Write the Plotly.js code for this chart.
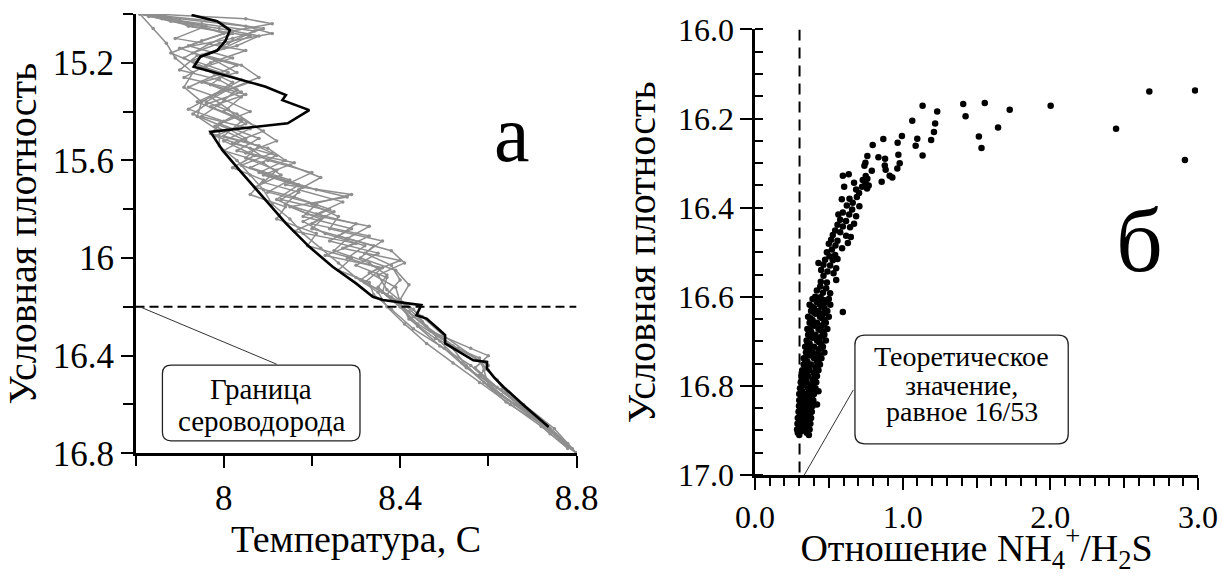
<!DOCTYPE html>
<html><head><meta charset="utf-8">
<script src="https://cdn.plot.ly/plotly-3.0.1.min.js"></script>
<style>html,body{margin:0;padding:0;background:#fff}#chart{width:1222px;height:575px}</style>
</head><body><div id="chart"></div>
<script>
// ---------- Panel "а": temperature profiles vs conditional density ----------
const grayT1 = [7.82,7.98,8.09,8.02,7.90,7.98,8.03,7.95,8.05,7.97,8.04,8.09,8.02,8.12,8.06,8.15,8.10,8.21,8.18,8.29,8.24,8.35,8.30,8.37,8.36,8.40,8.44,8.49,8.56,8.61,8.67,8.73,8.78,8.80];
const grayD1 = [15.00,15.03,15.06,15.10,15.14,15.19,15.24,15.28,15.33,15.38,15.43,15.48,15.53,15.58,15.63,15.68,15.73,15.78,15.83,15.88,15.93,15.98,16.03,16.08,16.14,16.20,16.28,16.36,16.44,16.52,16.60,16.68,16.76,16.80];
const grayT2 = [7.81,7.90,8.05,8.11,7.99,7.93,8.03,7.98,7.92,8.00,8.06,7.99,8.08,8.03,8.16,8.09,8.18,8.13,8.25,8.20,8.33,8.27,8.40,8.33,8.39,8.40,8.42,8.48,8.58,8.59,8.60,8.66,8.74,8.80];
const grayD2 = [15.00,15.02,15.05,15.08,15.12,15.16,15.21,15.25,15.30,15.35,15.40,15.45,15.51,15.56,15.61,15.66,15.71,15.76,15.81,15.86,15.91,15.96,16.01,16.06,16.12,16.18,16.25,16.33,16.41,16.46,16.52,16.60,16.70,16.80];
const grayT3 = [7.83,7.93,8.00,7.92,8.02,7.95,8.04,8.00,7.94,8.02,7.98,8.05,8.11,8.04,8.12,8.21,8.28,8.15,8.22,8.16,8.30,8.23,8.36,8.32,8.38,8.42,8.47,8.56,8.60,8.57,8.62,8.68,8.75,8.80];
const grayD3 = [15.00,15.04,15.08,15.13,15.18,15.22,15.27,15.31,15.36,15.42,15.46,15.52,15.57,15.62,15.67,15.72,15.75,15.79,15.84,15.89,15.94,15.99,16.04,16.10,16.16,16.22,16.30,16.37,16.40,16.45,16.53,16.62,16.72,16.80];
const grayT4 = [7.85,7.96,7.89,8.05,7.97,7.91,8.03,7.99,7.95,8.06,8.00,8.07,8.02,8.09,8.06,8.14,8.12,8.21,8.19,8.29,8.26,8.33,8.34,8.38,8.43,8.50,8.55,8.63,8.69,8.74,8.80];
const grayD4 = [15.01,15.05,15.10,15.15,15.20,15.26,15.31,15.37,15.42,15.47,15.52,15.58,15.63,15.68,15.74,15.79,15.84,15.90,15.95,16.00,16.05,16.10,16.15,16.21,16.29,16.37,16.45,16.54,16.63,16.72,16.80];
const grayT5 = [7.84,8.05,8.11,8.02,7.95,7.88,7.96,8.06,7.98,7.92,8.00,7.97,8.10,8.14,8.08,8.17,8.12,8.19,8.33,8.28,8.38,8.41,8.35,8.37,8.41,8.45,8.49,8.54,8.59,8.64,8.72,8.79];
const grayD5 = [15.00,15.02,15.04,15.07,15.11,15.16,15.22,15.28,15.33,15.39,15.44,15.49,15.55,15.60,15.65,15.70,15.76,15.82,15.87,15.92,15.97,16.02,16.07,16.13,16.19,16.26,16.34,16.43,16.51,16.59,16.68,16.78];
const grayT6 = [7.81,7.84,7.87,7.89,7.93,7.91,7.95,7.94,7.99,7.99,8.03,8.06,8.09,8.11,8.15,8.18,8.22,8.26,8.30,8.35,8.37,8.41,8.46,8.52,8.58,8.65,8.72,8.78];
const grayD6 = [15.00,15.06,15.12,15.18,15.24,15.30,15.36,15.42,15.48,15.54,15.60,15.66,15.72,15.78,15.84,15.90,15.96,16.02,16.08,16.14,16.20,16.27,16.35,16.43,16.51,16.60,16.69,16.78];
const grayT7 = [7.86,7.92,8.06,8.00,7.93,8.01,7.97,8.04,8.00,8.05,7.98,8.06,8.10,8.20,8.14,8.29,8.20,8.26,8.24,8.36,8.32,8.38,8.40,8.37,8.43,8.46,8.52,8.60,8.58,8.63,8.70,8.76,8.80];
const grayD7 = [15.00,15.05,15.09,15.14,15.19,15.24,15.29,15.34,15.40,15.45,15.50,15.55,15.60,15.65,15.70,15.74,15.78,15.83,15.88,15.93,15.98,16.03,16.09,16.15,16.21,16.28,16.36,16.44,16.48,16.56,16.65,16.74,16.80];
const grayT8 = [7.83,7.95,8.07,8.01,7.96,8.04,8.08,8.01,7.96,8.03,8.07,8.12,8.05,8.15,8.22,8.17,8.27,8.21,8.30,8.26,8.34,8.31,8.39,8.42,8.40,8.45,8.50,8.57,8.62,8.68,8.75,8.80];
const grayD8 = [15.01,15.04,15.07,15.12,15.17,15.21,15.26,15.31,15.36,15.41,15.46,15.52,15.57,15.62,15.67,15.72,15.77,15.82,15.86,15.91,15.95,16.00,16.05,16.11,16.17,16.24,16.32,16.41,16.50,16.60,16.70,16.80];
const grayT9 = [7.82,7.88,7.99,8.08,8.03,7.94,7.90,7.99,8.04,7.96,7.93,8.01,8.05,8.00,8.09,8.13,8.07,8.16,8.24,8.18,8.23,8.32,8.28,8.35,8.31,8.36,8.40,8.44,8.51,8.55,8.61,8.69,8.77];
const grayD9 = [15.00,15.03,15.06,15.09,15.13,15.17,15.23,15.27,15.32,15.37,15.41,15.47,15.51,15.56,15.61,15.66,15.71,15.75,15.80,15.85,15.90,15.95,16.00,16.04,16.09,16.14,16.20,16.27,16.35,16.44,16.54,16.64,16.75];
const grayT10 = [7.81,7.86,7.93,8.02,7.97,7.91,7.96,8.02,7.97,8.01,8.04,8.00,8.08,8.05,8.12,8.09,8.17,8.14,8.23,8.20,8.28,8.25,8.33,8.37,8.35,8.39,8.43,8.47,8.53,8.58,8.60,8.64,8.71,8.78];
const grayD10 = [15.00,15.02,15.05,15.08,15.12,15.18,15.23,15.28,15.34,15.39,15.44,15.50,15.54,15.59,15.64,15.69,15.73,15.78,15.83,15.88,15.92,15.97,16.02,16.07,16.12,16.18,16.24,16.30,16.37,16.42,16.46,16.55,16.66,16.77];

const blackT = [7.927,7.985,8.014,8.004,7.985,7.947,7.932,8.012,8.095,8.141,8.133,8.194,8.145,7.970,7.997,8.042,8.095,8.141,8.194,8.247,8.300,8.338,8.361,8.399,8.448,8.437,8.460,8.490,8.502,8.502,8.536,8.566,8.597,8.597,8.612,8.634,8.680,8.737];
const blackD = [15.004,15.030,15.066,15.110,15.150,15.175,15.216,15.257,15.298,15.332,15.353,15.394,15.448,15.483,15.558,15.653,15.763,15.858,15.954,16.036,16.104,16.159,16.172,16.180,16.193,16.234,16.248,16.296,16.316,16.350,16.385,16.419,16.426,16.453,16.487,16.528,16.603,16.692];

const h2sBoundary = 16.2;
const tempTickVals = [8, 8.4, 8.8];
const tempTickText = ['8', '8.4', '8.8'];
const densATickVals = [15.2, 15.6, 16, 16.4, 16.8];
const densATickText = ['15.2', '15.6', '16', '16.4', '16.8'];

// ---------- Panel "б": NH4+/H2S ratio vs conditional density ----------
const ratioX = [
 1.41,1.556,1.426,1.725,2.002,1.646,1.516,1.534,2.67,2.98,2.445,2.911,
 1.135,1.234,1.065,1.220,1.212,0.869,0.995,0.966,1.099,1.193,0.797,1.088,1.135,0.761,0.836,0.881,0.971,0.980,
 0.748,0.741,0.791,0.879,0.885,0.964,0.912,0.930,0.858,0.750,0.761,0.730,0.748,0.770,0.725,0.759,
 0.595,0.635,0.604,0.671,0.685,0.705,0.588,0.640,0.690,0.662,0.707,0.622,0.658,0.595,0.638,0.685,
 0.565,0.577,0.617,0.559,0.595,0.671,0.644,0.543,0.577,0.527,0.617,0.649,0.516,0.559,0.500,0.545,
 0.629,0.590,0.521,0.487,0.543,0.505,0.475,0.527,0.559,0.430,0.464,0.509,0.550,0.448,0.491,0.532,
 0.464,0.550,0.446,0.487,0.442,0.482,0.419,0.460,0.509,0.408,0.442,0.595,
 0.39,0.45,0.50, 0.42,0.48, 0.37,0.44,0.51, 0.40,0.47, 0.38,0.43,0.49, 0.41,0.46,
 0.36,0.44,0.50, 0.39,0.47, 0.37,0.42,0.48, 0.40,0.45, 0.355,0.43,0.49, 0.38,0.46,
 0.36,0.41,0.47, 0.39,0.44, 0.35,0.42,0.48, 0.37,0.45, 0.34,0.40,0.46, 0.36,0.43,
 0.345,0.39,0.47, 0.37,0.44, 0.33,0.40,0.45, 0.355,0.42, 0.33,0.38,0.44, 0.35,0.41,
 0.32,0.37,0.43, 0.34,0.40, 0.315,0.36,0.42, 0.33,0.39, 0.31,0.35,0.415, 0.325,0.38,
 0.305,0.36,0.41, 0.32,0.375, 0.30,0.345,0.40, 0.315,0.37, 0.30,0.34,0.395, 0.31,0.36,
 0.298,0.33,0.39, 0.31,0.355, 0.295,0.335,0.385, 0.305,0.36, 0.29,0.33,0.38, 0.30,0.35,
 0.288,0.325,0.375, 0.30,0.345, 0.285,0.33,0.37, 0.29,0.35, 0.30,0.365,
 0.415,0.47, 0.385,0.455, 0.40,0.475, 0.375,0.455, 0.385,0.465, 0.37,0.445, 0.375,0.455, 0.355,0.435,
 0.37,0.445, 0.355,0.425, 0.34,0.43, 0.365,0.425, 0.33,0.41, 0.345,0.405, 0.33,0.395, 0.315,0.39,
 0.33,0.385, 0.32,0.375, 0.315,0.37, 0.32,0.37, 0.31,0.365, 0.31,0.36, 0.31,0.345, 0.43,0.42
];
const ratioY = [
 16.167,16.165,16.195,16.18,16.171,16.22,16.24,16.266,16.139,16.137,16.223,16.293,
 16.171,16.184,16.205,16.211,16.23,16.246,16.239,16.254,16.245,16.248,16.259,16.261,16.283,16.284,16.287,16.29,16.281,16.30,
 16.299,16.306,16.317,16.305,16.315,16.312,16.328,16.332,16.342,16.329,16.335,16.338,16.345,16.35,16.353,16.357,
 16.328,16.325,16.353,16.344,16.359,16.367,16.381,16.380,16.376,16.389,16.397,16.395,16.404,16.411,16.415,16.419,
 16.415,16.427,16.43,16.438,16.442,16.436,16.444,16.451,16.455,16.461,16.463,16.466,16.472,16.474,16.481,16.485,
 16.479,16.491,16.494,16.50,16.506,16.509,16.517,16.518,16.515,16.524,16.528,16.53,16.536,16.54,16.543,16.547,
 16.553,16.562,16.566,16.568,16.577,16.581,16.586,16.591,16.592,16.60,16.601,16.634,
 16.605,16.605,16.605, 16.612,16.612, 16.618,16.618,16.618, 16.625,16.625, 16.632,16.632,16.632, 16.638,16.638,
 16.645,16.645,16.645, 16.652,16.652, 16.658,16.658,16.658, 16.665,16.665, 16.672,16.672,16.672, 16.678,16.678,
 16.685,16.685,16.685, 16.692,16.692, 16.698,16.698,16.698, 16.705,16.705, 16.712,16.712,16.712, 16.718,16.718,
 16.725,16.725,16.725, 16.732,16.732, 16.738,16.738,16.738, 16.745,16.745, 16.752,16.752,16.752, 16.758,16.758,
 16.765,16.765,16.765, 16.772,16.772, 16.778,16.778,16.778, 16.785,16.785, 16.792,16.792,16.792, 16.798,16.798,
 16.805,16.805,16.805, 16.812,16.812, 16.818,16.818,16.818, 16.825,16.825, 16.832,16.832,16.832, 16.838,16.838,
 16.845,16.845,16.845, 16.852,16.852, 16.858,16.858,16.858, 16.865,16.865, 16.872,16.872,16.872, 16.878,16.878,
 16.885,16.885,16.885, 16.892,16.892, 16.898,16.898,16.898, 16.905,16.905, 16.910,16.910,
 16.608,16.608, 16.622,16.622, 16.635,16.635, 16.648,16.648, 16.662,16.662, 16.675,16.675, 16.688,16.688, 16.702,16.702,
 16.715,16.715, 16.728,16.728, 16.742,16.742, 16.755,16.755, 16.768,16.768, 16.782,16.782, 16.795,16.795, 16.808,16.808,
 16.822,16.822, 16.835,16.835, 16.848,16.848, 16.862,16.862, 16.875,16.875, 16.888,16.888, 16.902,16.902, 16.812,16.842
];
const theoreticalRatio = 16/53;
const ratioTickVals = [0, 1, 2, 3];
const ratioTickText = ['0.0', '1.0', '2.0', '3.0'];
const ratioHalfTicks = [0.5, 1.5, 2.5];
const densBTickVals = [16.0, 16.2, 16.4, 16.6, 16.8, 17.0];
const densBTickText = ['16.0', '16.2', '16.4', '16.6', '16.8', '17.0'];

const grayColor = '#8e8e8e';
const grays = [[grayT1,grayD1],[grayT2,grayD2],[grayT3,grayD3],[grayT4,grayD4],[grayT5,grayD5],
               [grayT6,grayD6],[grayT7,grayD7],[grayT8,grayD8],[grayT9,grayD9],[grayT10,grayD10]];
const traces = grays.map(([t,d]) => ({
  type:'scatter', mode:'lines+markers', x:t, y:d, xaxis:'x', yaxis:'y',
  line:{color:grayColor, width:1.5}, marker:{color:grayColor, size:3.5}
}));
traces.push({type:'scatter', mode:'lines', x:blackT, y:blackD, xaxis:'x', yaxis:'y',
  line:{color:'#000', width:2.6}});
traces.push({type:'scatter', mode:'markers', x:ratioX, y:ratioY, xaxis:'x2', yaxis:'y2',
  marker:{color:'#000', size:6.5}});
traces.push({type:'scatter', mode:'markers', x:[0], y:[16], xaxis:'x3', yaxis:'y2',
  marker:{opacity:0}});

function roundRect(x0,x1,y0,y1,rx,ry){
  return `M ${x0+rx},${y0} L ${x1-rx},${y0} Q ${x1},${y0} ${x1},${y0+ry} L ${x1},${y1-ry} Q ${x1},${y1} ${x1-rx},${y1} L ${x0+rx},${y1} Q ${x0},${y1} ${x0},${y1-ry} L ${x0},${y0+ry} Q ${x0},${y0} ${x0+rx},${y0} Z`;
}

const axisCommon = {showline:true, linewidth:2.5, linecolor:'#000', showgrid:false, zeroline:false,
  ticks:'outside', ticklen:12, tickwidth:2, tickcolor:'#000', tickmode:'array'};

const layout = {
  width:1222, height:575, margin:{l:0,r:0,t:0,b:0}, showlegend:false,
  font:{family:'Liberation Serif', size:30, color:'#000'},
  xaxis:Object.assign({}, axisCommon, {anchor:'y', domain:[0.1109,0.4718], range:[7.8,8.8],
    tickvals:tempTickVals, ticktext:tempTickText, tickfont:{family:'Liberation Serif', size:35},
    minor:{tickmode:'linear', tick0:8.0, dtick:0.2, ticks:'outside', ticklen:10, tickwidth:2, tickcolor:'#000'},
    title:{text:'Температура, С', font:{family:'Liberation Serif', size:38}, standoff:0}}),
  yaxis:Object.assign({}, axisCommon, {anchor:'x', domain:[0.2117,0.9757], range:[16.8,15.0],
    tickvals:densATickVals, ticktext:densATickText, tickfont:{family:'Liberation Serif', size:35},
    minor:{tickmode:'linear', tick0:15.0, dtick:0.2, ticks:'outside', ticklen:10, tickwidth:2, tickcolor:'#000'},
    title:{text:'Условная плотность', font:{family:'Liberation Serif', size:40}, standoff:10}}),
  xaxis2:Object.assign({}, axisCommon, {anchor:'y2', domain:[0.6178,0.9804], range:[0,3],
    tickvals:ratioTickVals, ticktext:ratioTickText, tickfont:{family:'Liberation Serif', size:32},
    minor:{tickmode:'linear', tick0:0, dtick:0.1, ticks:'outside', ticklen:8, tickwidth:2, tickcolor:'#000'},
    title:{text:'Отношение NH<sub>4</sub><sup>+</sup>/H<sub>2</sub>S', font:{family:'Liberation Serif', size:38}, standoff:12}}),
  xaxis3:{overlaying:'x2', anchor:'y2', range:[0,3], tickmode:'array', tickvals:ratioHalfTicks,
    showticklabels:false, ticks:'outside', ticklen:12, tickwidth:2, tickcolor:'#000',
    showline:false, showgrid:false, zeroline:false},
  yaxis2:Object.assign({}, axisCommon, {anchor:'x2', domain:[0.1739,0.9487], range:[17.0,16.0],
    tickvals:densBTickVals, ticktext:densBTickText, tickfont:{family:'Liberation Serif', size:32},
    minor:{tickmode:'linear', tick0:16.0, dtick:0.05, ticks:'inside', ticklen:8, tickwidth:2, tickcolor:'#000'},
    title:{text:'Условная плотность', font:{family:'Liberation Serif', size:40}, standoff:10}}),
  shapes:[
    {type:'line', xref:'x', yref:'y', x0:7.8, x1:8.8, y0:h2sBoundary, y1:h2sBoundary, line:{color:'#000', width:2, dash:'9px,5px'}},
    {type:'line', xref:'x', yref:'y', x0:7.81, y0:h2sBoundary, x1:8.12, y1:16.435, line:{color:'#333', width:1}},
    {type:'path', xref:'x', yref:'y', path:roundRect(7.861,8.309,16.439,16.749,0.02,0.035), line:{color:'#222', width:1.3}},
    {type:'line', xref:'x2', yref:'y2', x0:theoreticalRatio, x1:theoreticalRatio, y0:16.0, y1:17.0, line:{color:'#000', width:2, dash:'11px,7px'}},
    {type:'line', xref:'x2', yref:'y2', x0:0.334, y0:17.0, x1:0.666, y1:16.809, line:{color:'#333', width:1}},
    {type:'path', xref:'x2', yref:'y2', path:roundRect(0.677,2.121,16.686,16.930,0.068,0.022), line:{color:'#222', width:1.3}}
  ],
  annotations:[
    {xref:'x', yref:'y', x:8.085, y:16.535, text:'Граница', showarrow:false, font:{family:'Liberation Serif', size:29}},
    {xref:'x', yref:'y', x:8.085, y:16.667, text:'сероводорода', showarrow:false, font:{family:'Liberation Serif', size:29}},
    {xref:'x2', yref:'y2', x:1.40, y:16.735, text:'Теоретическое', showarrow:false, font:{family:'Liberation Serif', size:28}},
    {xref:'x2', yref:'y2', x:1.40, y:16.799, text:'значение,', showarrow:false, font:{family:'Liberation Serif', size:28}},
    {xref:'x2', yref:'y2', x:1.40, y:16.858, text:'равное 16/53', showarrow:false, font:{family:'Liberation Serif', size:28}},
    {xref:'paper', yref:'paper', x:512/1222, y:1-88/575, text:'а', showarrow:false, font:{family:'Liberation Serif', size:80}},
    {xref:'paper', yref:'paper', x:1165/1222, y:1-240/575, text:'б', showarrow:false, font:{family:'Liberation Serif', size:92}}
  ]
};

Plotly.newPlot('chart', traces, layout, {staticPlot:true});
</script>
</body></html>
